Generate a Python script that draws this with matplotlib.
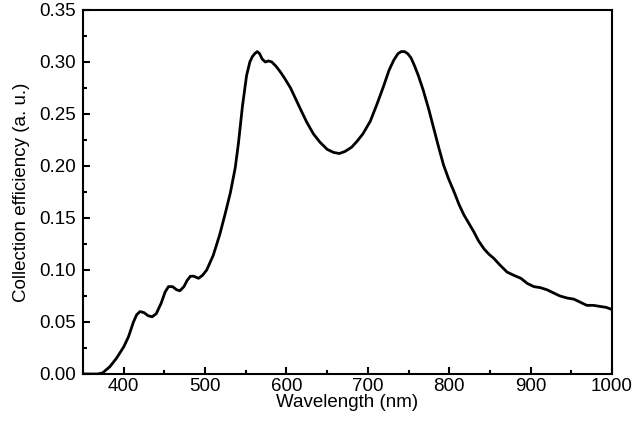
import matplotlib.pyplot as plt
from matplotlib.ticker import MultipleLocator

# Wavelength (nm) and collection efficiency
wavelength = [350, 368, 374, 383, 391, 400, 406, 412, 416, 420, 425, 430, 435, 440,
              446, 451, 455, 460, 465, 469, 474, 478, 482, 486, 492, 497, 502, 510,
              518, 525, 531, 537, 541, 546, 551, 555, 558, 561, 564, 567, 570, 574,
              578, 582, 587, 592, 598, 605, 611, 617, 625, 633, 641, 650, 658, 665,
              672, 680, 687, 694, 703, 711, 719, 726, 732, 737, 741, 745, 749, 753,
              757, 762, 768, 775, 781, 787, 793, 799, 806, 812, 818, 824, 830, 836,
              843, 849, 855, 862, 871, 879, 888, 896, 904, 912, 920, 928, 936, 945,
              953, 961, 969, 977, 985, 993, 1000]
efficiency = [0.000, 0.000, 0.001, 0.007, 0.015, 0.026, 0.036, 0.050, 0.057, 0.060,
              0.059, 0.056, 0.055, 0.058, 0.068, 0.079, 0.084, 0.084, 0.081, 0.080,
              0.084, 0.090, 0.094, 0.094, 0.092, 0.095, 0.100, 0.114, 0.134, 0.155,
              0.174, 0.198, 0.222, 0.258, 0.287, 0.300, 0.305, 0.308, 0.310, 0.308,
              0.303, 0.300, 0.301, 0.300, 0.296, 0.291, 0.284, 0.275, 0.265, 0.255,
              0.242, 0.231, 0.223, 0.216, 0.213, 0.212, 0.214, 0.218, 0.224, 0.231,
              0.243, 0.259, 0.276, 0.292, 0.302, 0.308, 0.310, 0.310, 0.308, 0.304,
              0.297, 0.287, 0.273, 0.254, 0.236, 0.218, 0.201, 0.188, 0.175, 0.163,
              0.153, 0.145, 0.137, 0.128, 0.120, 0.115, 0.111, 0.105, 0.098, 0.095,
              0.092, 0.087, 0.084, 0.083, 0.081, 0.078, 0.075, 0.073, 0.072, 0.069,
              0.066, 0.066, 0.065, 0.064, 0.062]

plt.rcParams['font.family'] = ['Liberation Sans', 'DejaVu Sans']

fig = plt.figure(figsize=(6.35, 4.32), dpi=100)
ax = fig.add_axes([0.1307, 0.1343, 0.8331, 0.8426])

ax.plot(wavelength, efficiency, color='black', linewidth=2.0)

ax.set_xlim(350, 1000)
ax.set_ylim(0, 0.35)
ax.xaxis.set_major_locator(MultipleLocator(100))
ax.xaxis.set_minor_locator(MultipleLocator(50))
ax.yaxis.set_major_locator(MultipleLocator(0.05))
ax.yaxis.set_minor_locator(MultipleLocator(0.025))
ax.yaxis.set_major_formatter(plt.FormatStrFormatter('%.2f'))

for side in ax.spines.values():
    side.set_linewidth(1.5)
ax.tick_params(which='major', direction='in', length=5, width=1.5, labelsize=13.5)
ax.tick_params(axis='y', which='major', pad=5)
ax.tick_params(axis='x', which='major', pad=3)
ax.tick_params(which='minor', direction='in', length=3, width=1.5)

ax.set_xlabel('Wavelength (nm)', fontsize=13.5, labelpad=-1)
ax.set_ylabel('Collection efficiency (a. u.)', fontsize=13.5, labelpad=7)

fig.savefig('out.png', dpi=100)
